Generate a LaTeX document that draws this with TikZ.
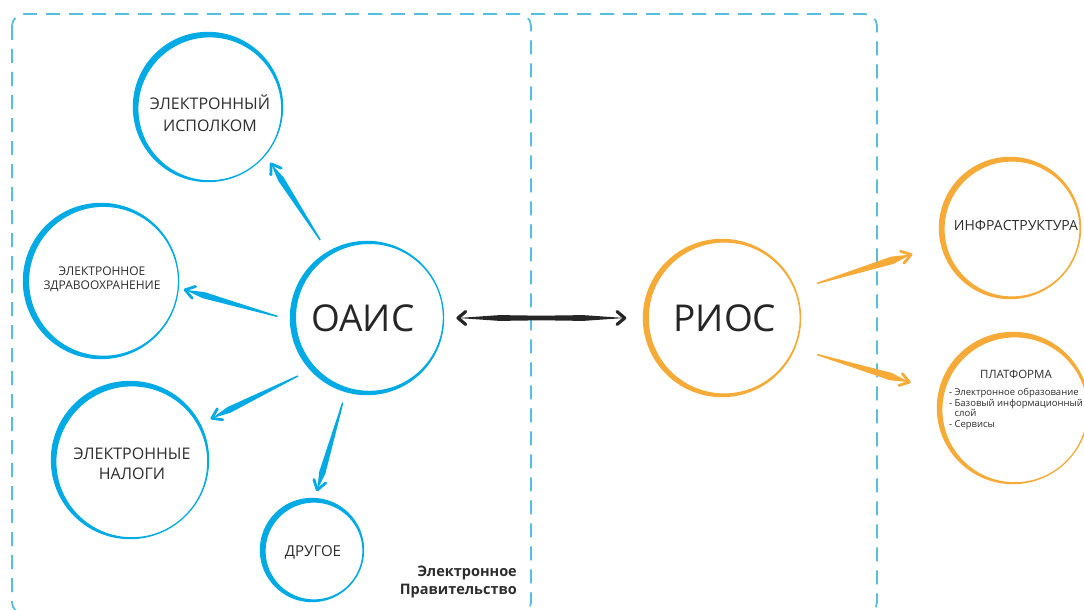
\documentclass[tikz,border=0pt]{standalone}
\usepackage{fontspec}
\setmainfont{Open Sans}
\usetikzlibrary{calc}
\definecolor{cblue}{RGB}{0,170,228}
\definecolor{corange}{RGB}{246,170,55}
\definecolor{cdash}{RGB}{85,190,225}
\definecolor{ctext}{RGB}{45,45,45}
\definecolor{carrow}{RGB}{38,38,38}
\tikzset{
  bubble/.style={circle, inner sep=0pt, minimum size=#1pt},
  txt/.style={text=ctext, align=center, inner sep=0pt},
  frame/.style={draw=cdash, line width=1.8pt, dash pattern=on 14pt off 9pt, rounded corners=12pt},
}
\newcommand{\ring}[5]{%
  \fill[#5, even odd rule] (#1.center) circle[radius=#2+2.2] ($(#1.center)+(#3,#4)$) circle[radius=#2-1.6];
}
\newcommand{\brush}[4]{%
  \path #2 coordinate (bs) #3 coordinate (be);
  \path ($(bs)!0.8!(be)$) coordinate (bm);
  \fill[#1] ($(bs)!0.7pt!90:(be)$) -- ($(bm)!#4!90:(be)$) -- (be) -- ($(bm)!#4!-90:(be)$) -- ($(bs)!0.7pt!-90:(be)$) -- cycle;
  \draw[#1, line width=2.8pt, line cap=round, line join=round] ($(be)!11pt!34:(bs)$) -- (be) -- ($(be)!11pt!-34:(bs)$);
}
\begin{document}
\begin{tikzpicture}[x=1pt,y=-1pt]
\useasboundingbox (0,0) rectangle (1084,610);
\fill[white] (0,0) rectangle (1084,610);
% frames
\draw[frame] (12,14) rectangle (531,614);
\draw[frame] (531,14) -- (877,14) -- (877,614) -- (531,614);
% circle nodes
\node[bubble=146] (isp) at (208,107) {};
\node[bubble=152] (zdr) at (101,281) {};
\node[bubble=150] (oais) at (367,318) {};
\node[bubble=154] (nal) at (130,460) {};
\node[bubble=100] (dr) at (312,550) {};
\node[bubble=154] (rios) at (722,318) {};
\node[bubble=138] (infra) at (1010,228) {};
\node[bubble=148] (plat) at (1013,408) {};
% rings
\ring{isp}{73}{1.8}{1.8}{cblue}
\ring{zdr}{76}{2.5}{0.3}{cblue}
\ring{oais}{75}{2.4}{-0.6}{cblue}
\ring{nal}{77}{1.8}{1.8}{cblue}
\ring{dr}{50}{2}{1}{cblue}
\ring{rios}{77}{2.2}{0}{corange}
\ring{infra}{69}{2}{1}{corange}
\ring{plat}{74}{1.8}{1.8}{corange}
% blue arrows
\brush{cblue}{($(oais.center)!1.21!(oais.121)$)}{($(isp.center)!1.16!(isp.-42)$)}{3.2pt}
\brush{cblue}{($(oais.center)!1.19!(oais.179)$)}{($(zdr.center)!1.11!(zdr.-6)$)}{3.2pt}
\brush{cblue}{($(oais.center)!1.2!(oais.220)$)}{($(nal.center)!1.19!(nal.27)$)}{3.2pt}
\brush{cblue}{($(oais.center)!1.17!(oais.254)$)}{($(dr.center)!1.2!(dr.85)$)}{3.2pt}
% orange arrows
\brush{corange}{($(rios.center)!1.31!(rios.20)$)}{($(infra.center)!1.48!(infra.195)$)}{3.8pt}
\brush{corange}{($(rios.center)!1.32!(rios.-21)$)}{($(plat.center)!1.44!(plat.166)$)}{3.8pt}
% black double arrow
\path ($(oais.center)!1.21!(oais.0)$) coordinate (da)
      ($(rios.center)!1.26!(rios.180)$) coordinate (db);
\path ($(da)!0.25!(db)$) coordinate (dq1) ($(da)!0.5!(db)$) coordinate (dm) ($(da)!0.75!(db)$) coordinate (dq3);
\fill[carrow] (da) -- ($(dq1)!2.9pt!90:(db)$) -- ($(dm)!2.3pt!90:(db)$) -- ($(dq3)!2.9pt!90:(db)$) -- (db)
  -- ($(dq3)!2.9pt!-90:(db)$) -- ($(dm)!2.3pt!-90:(db)$) -- ($(dq1)!2.9pt!-90:(db)$) -- cycle;
\draw[carrow, line width=3.2pt, line cap=round, line join=round] ($(da)!10pt!40:(db)$) -- (da) -- ($(da)!10pt!-40:(db)$);
\draw[carrow, line width=3.2pt, line cap=round, line join=round] ($(db)!10pt!40:(da)$) -- (db) -- ($(db)!10pt!-40:(da)$);
% texts
\node[txt, font=\fontsize{16}{22}\selectfont] (ispT) at ($(isp)+(2,6)$) {ЭЛЕКТРОННЫЙ\\ИСПОЛКОМ};
\node[txt, font=\fontsize{12}{14}\selectfont] (zdrT) at ($(zdr)+(1,-2)$) {ЭЛЕКТРОННОЕ\\ЗДРАВООХРАНЕНИЕ};
\node[txt, font=\fontsize{37}{40}\selectfont, text=black!85] (oaisT) at ($(oais)+(-4,0)$) {ОАИС};
\node[txt, font=\fontsize{16}{20}\selectfont] (nalT) at ($(nal)+(2,4)$) {ЭЛЕКТРОННЫЕ\\НАЛОГИ};
\node[txt, font=\fontsize{15}{18}\selectfont] (drT) at ($(dr)+(1,2)$) {ДРУГОЕ};
\node[txt, font=\fontsize{37}{40}\selectfont, text=black!85] (riosT) at ($(rios)+(3,0)$) {РИОС};
\node[txt, font=\fontsize{14}{16}\selectfont] (infraT) at ($(infra)+(6,-3)$) {ИНФРАСТРУКТУРА};
\node[txt, font=\fontsize{9.5}{10.5}\selectfont] (platT) at ($(plat)+(3,-8)$) {%
  \begin{tabular}{@{}l@{}}\multicolumn{1}{@{}c@{}}{\fontsize{11.5}{14}\selectfont ПЛАТФОРМА}\\[7pt]
  - Электронное образование\\
  - Базовый информационный\\
  \hphantom{- }слой\\
  - Сервисы\end{tabular}};
\node[txt, font=\bfseries\fontsize{14.5}{18}\selectfont, align=right, anchor=south east] (gov) at (517,598) {Электронное\\Правительство};
\end{tikzpicture}
\end{document}
